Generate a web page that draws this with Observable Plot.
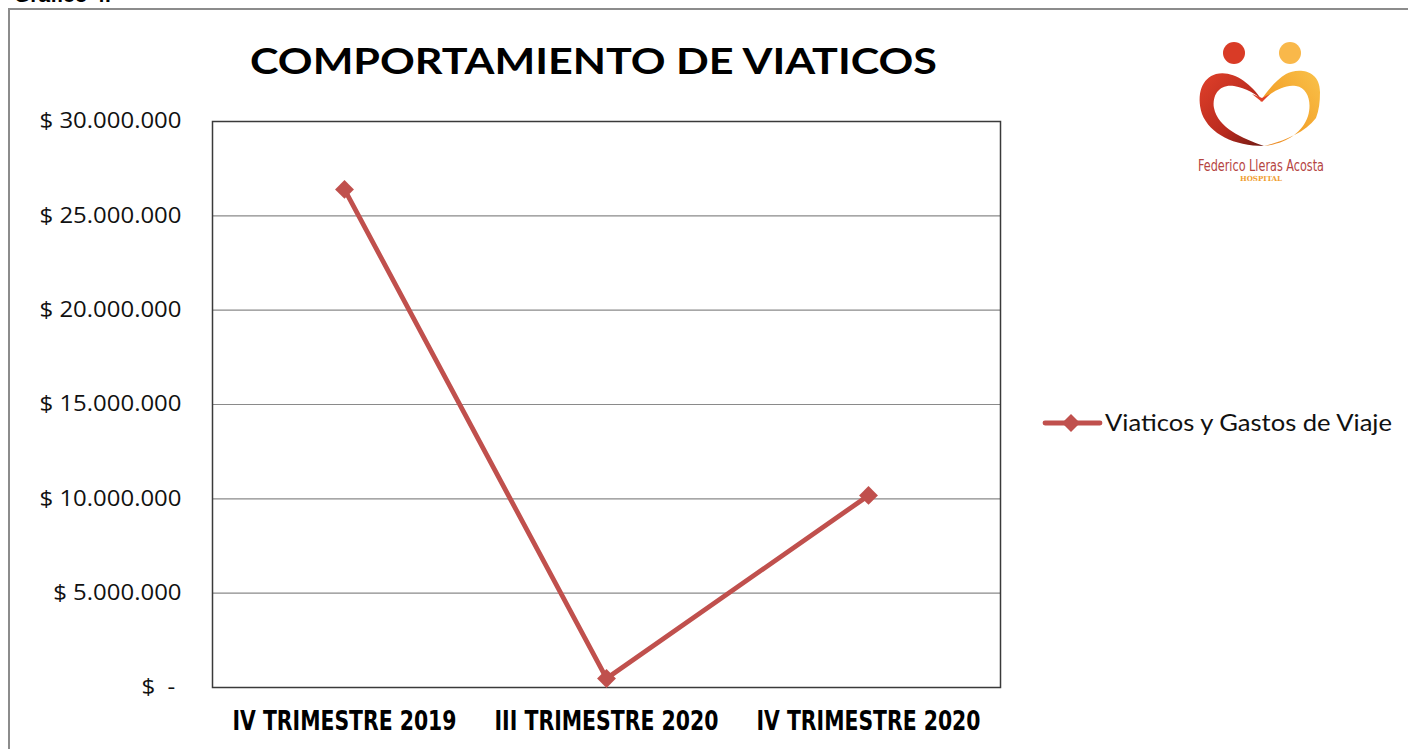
<!DOCTYPE html>
<html>
<head>
<meta charset="utf-8">
<script src="https://cdn.jsdelivr.net/npm/d3@7"></script>
<script src="https://cdn.jsdelivr.net/npm/@observablehq/plot@0.6"></script>
<style>
  html, body { margin: 0; padding: 0; background: #fff; overflow: hidden; }
  #wrap { position: relative; width: 1408px; height: 749px; overflow: hidden; background: #fff; }
  #frame { position: absolute; left: 8px; top: 8px; width: 1420px; height: 780px; border: 2px solid #8c8c8c; box-sizing: border-box; }
  #fig { position: absolute; left: 14px; top: -17px; font-family: "Liberation Sans", Arial, sans-serif; font-weight: bold; font-size: 21px; color: #000; }
  #chart { position: absolute; left: 0; top: 0; }
  #overlay { position: absolute; left: 0; top: 0; }
</style>
</head>
<body>
<div id="wrap">
  <div id="frame"></div>
  <div id="fig">Gráfico 4.</div>
  <div id="chart"></div>
  <svg id="overlay" width="1408" height="749">
    <defs>
      <linearGradient id="gRed" x1="0" y1="0" x2="1" y2="1">
        <stop offset="0" stop-color="#e0402a"/>
        <stop offset="0.6" stop-color="#b82a1e"/>
        <stop offset="1" stop-color="#6e1a14"/>
      </linearGradient>
      <linearGradient id="gOr" x1="1" y1="0" x2="0" y2="1">
        <stop offset="0" stop-color="#f9c24a"/>
        <stop offset="0.6" stop-color="#f3a12a"/>
        <stop offset="1" stop-color="#e9852a"/>
      </linearGradient>
    </defs>
    <text id="title" x="593.5" y="74" text-anchor="middle" font-family="Lato, 'Open Sans', sans-serif" font-weight="bold" font-size="37" fill="#000" textLength="687" lengthAdjust="spacingAndGlyphs">COMPORTAMIENTO DE VIATICOS</text>
    <g id="legend">
      <line x1="1045" y1="423" x2="1100" y2="423" stroke="#C0504D" stroke-width="4.8" stroke-linecap="round"/>
      <path d="M1071,414 L1080,423 L1071,432 L1062,423 Z" fill="#C0504D"/>
      <text x="1105" y="431" font-family="Lato, 'Open Sans', sans-serif" font-size="23" fill="#111" textLength="287" lengthAdjust="spacingAndGlyphs">Viaticos y Gastos de Viaje</text>
    </g>
    <g id="logo" transform="translate(1180,30)">
      <circle cx="54" cy="23" r="11" fill="#d93b26"/>
      <circle cx="110" cy="23" r="11" fill="#f9b84a"/>
      <path d="M140,62 C140,38 116,38 106,44 C96,50 86,62 80,72 C92,62 104,54 116,56 C128,58 132,72 128,86 C122,104 104,114 84,116 C100,112 124,104 136,88 C139,80 140,72 140,62 Z" fill="url(#gOr)"/>
      <path d="M82,70 C70,52 52,40 36,44 C22,48 16,64 22,84 C30,104 54,116 84,116 C62,108 38,98 34,78 C32,64 40,54 54,56 C66,58 76,64 82,70 Z" fill="url(#gRed)"/>
      <path d="M72,64 L82,72 L90,64 L82,68 Z" fill="#e0402a"/>
      <text x="81" y="141" text-anchor="middle" font-family="'DejaVu Sans Condensed', 'Liberation Sans', sans-serif" font-size="16" fill="#b5443f" textLength="126" lengthAdjust="spacingAndGlyphs">Federico Lleras Acosta</text>
      <text x="81" y="151" text-anchor="middle" font-family="'DejaVu Serif', serif" font-weight="bold" font-size="7" fill="#f0a030" textLength="42" lengthAdjust="spacingAndGlyphs">HOSPITAL</text>
    </g>
  </svg>
</div>
<script>
const periods = ["IV TRIMESTRE 2019", "III TRIMESTRE 2020", "IV TRIMESTRE 2020"];
const viaticos = [26400000, 480000, 10180000];
const yTicks = [0, 5000000, 10000000, 15000000, 20000000, 25000000, 30000000];
const seriesName = "Viaticos y Gastos de Viaje";

const data = periods.map((p, i) => ({period: p, value: viaticos[i]}));
const fmt = v => v === 0 ? "$\u00A0\u00A0-\u00A0" : "$ " + d3.format(",")(v).replace(/,/g, ".");

const chart = Plot.plot({
  width: 1408,
  height: 749,
  marginLeft: 212,
  marginRight: 408,
  marginTop: 121,
  marginBottom: 62,
  style: {background: "transparent", fontFamily: "'Open Sans', Lato, sans-serif"},
  x: {type: "point", domain: periods, padding: 0.5},
  y: {domain: [0, 30000000]},
  marks: [
    Plot.gridY(yTicks, {stroke: "#8a8a8a", strokeOpacity: 1, strokeWidth: 1.2}),
    Plot.frame({stroke: "#3a3a3a", strokeWidth: 1.5}),
    Plot.axisY(yTicks, {tickSize: 0, tickPadding: 31, tickFormat: fmt, fontSize: 21, fill: "#111", label: null}),
    Plot.axisX({tickSize: 0, tickPadding: 23, fontSize: 27, fontWeight: "bold", fontFamily: "'DejaVu Sans Condensed', 'Liberation Sans', sans-serif", fill: "#000", label: null}),
    Plot.line(data, {x: "period", y: "value", stroke: "#C0504D", strokeWidth: 4.8}),
    Plot.dot(data, {x: "period", y: "value", symbol: "diamond2", r: 8.5, fill: "#C0504D", stroke: "none"})
  ]
});
document.getElementById("chart").appendChild(chart);
// condense the bold category labels to the width seen in the reference
chart.querySelectorAll('g[aria-label="x-axis tick label"] text').forEach(t => {
  t.setAttribute("textLength", 224);
  t.setAttribute("lengthAdjust", "spacingAndGlyphs");
});
// widen the y tick labels slightly (Calibri-like proportions)
chart.querySelectorAll('g[aria-label="y-axis tick label"] text').forEach(t => {
  const w = t.getComputedTextLength();
  if (w > 0) {
    t.setAttribute("textLength", (w * 1.14).toFixed(1));
    t.setAttribute("lengthAdjust", "spacingAndGlyphs");
  }
});
</script>
</body>
</html>
